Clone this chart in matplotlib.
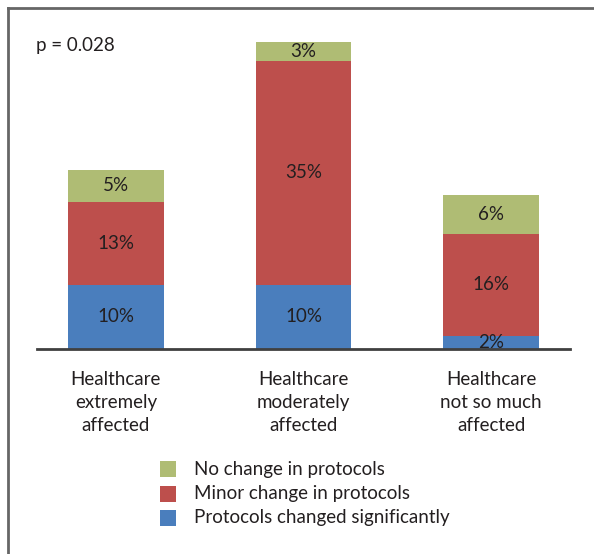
import matplotlib
matplotlib.use("Agg")
import matplotlib.pyplot as plt
from matplotlib.patches import Rectangle
from matplotlib.lines import Line2D

categories = ["Healthcare\nextremely\naffected", "Healthcare\nmoderately\naffected", "Healthcare\nnot so much\naffected"]
series_names = ["Protocols changed significantly", "Minor change in protocols", "No change in protocols"]
significant = [10, 10, 2]
minor = [13, 35, 16]
no_change = [5, 3, 6]
p_text = "p = 0.028"

colors = ["#4A7EBD", "#BD4F4C", "#AFBC74"]
txt = "#231F20"
plt.rcParams['font.family'] = ['Lato', 'DejaVu Sans']
FS = 13.5

W, H = 594, 554
fig = plt.figure(figsize=(W/100, H/100), dpi=100)

def fx(px): return px / W
def fy(py): return 1 - py / H

ax = fig.add_axes([fx(37), fy(349), fx(570) - fx(37), fy(30) - fy(349)])
x = list(range(len(categories)))
bottoms = [0] * len(x)
for vals, col in zip([significant, minor, no_change], colors):
    ax.bar(x, vals, width=0.51, bottom=bottoms, color=col, edgecolor="none")
    for xi, b, v in zip(x, bottoms, vals):
        ax.text(xi, b + v / 2, f"{v}%", ha="center", va="center", fontsize=FS, color=txt)
    bottoms = [b + v for b, v in zip(bottoms, vals)]

ax.set_xlim(-0.42, 2.42)
ax.set_ylim(0, 49.8)
for s in ["top", "right", "left"]:
    ax.spines[s].set_visible(False)
ax.spines["bottom"].set_color("#404040")
ax.spines["bottom"].set_linewidth(2)
ax.set_yticks([])
ax.set_xticks(x)
ax.set_xticklabels(categories, fontsize=FS, color=txt, linespacing=1.42)
ax.tick_params(axis="x", length=0, pad=16)

fig.text(fx(36), fy(45), p_text, ha="left", va="center", fontsize=FS, color=txt)

# legend (custom, top to bottom: no change, minor, significant)
leg_y = [469, 494, 518]
for yy, name, col in zip(leg_y, series_names[::-1], colors[::-1]):
    fig.patches.append(Rectangle((fx(160), fy(yy + 8)), fx(16), fy(yy - 8) - fy(yy + 8),
                                 transform=fig.transFigure, facecolor=col, edgecolor="none"))
    fig.text(fx(194), fy(yy), name, ha="left", va="center", fontsize=FS, color=txt)

# frame lines (top and left)
fig.add_artist(Line2D([fx(8), 1], [fy(8), fy(8)], transform=fig.transFigure, color="#666666", lw=2))
fig.add_artist(Line2D([fx(8), fx(8)], [fy(8), 0], transform=fig.transFigure, color="#666666", lw=2))

fig.savefig("out.png", dpi=100)
